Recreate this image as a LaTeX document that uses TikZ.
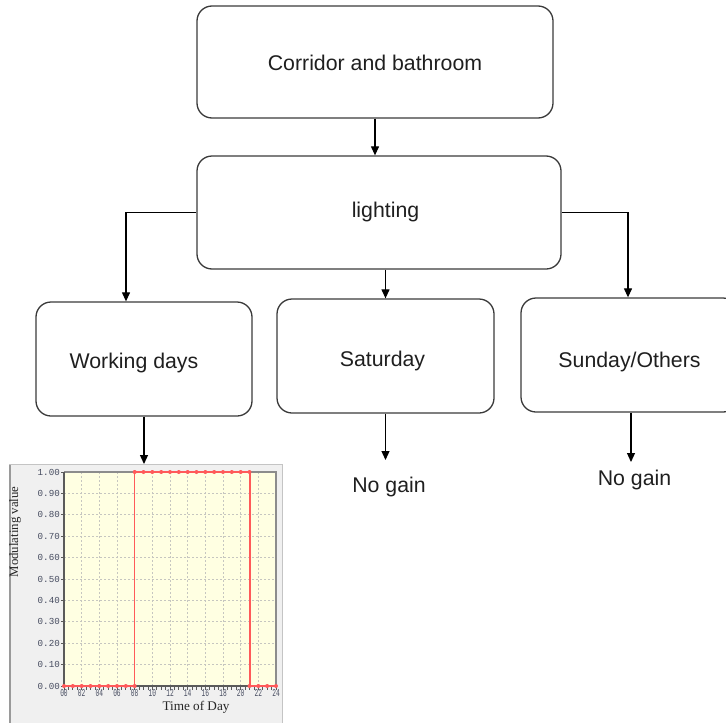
\documentclass[tikz,border=0pt]{standalone}
\usepackage{fontspec}
\usepackage{graphicx}
\setmainfont{Liberation Sans}
\newfontfamily\chartserif{Liberation Serif}
\newfontfamily\chartmono{Liberation Mono}
\usetikzlibrary{arrows.meta}

\definecolor{boxline}{HTML}{3A3A3A}
\definecolor{panelbg}{HTML}{F0F0F0}
\definecolor{paneledge}{HTML}{C4C4C4}
\definecolor{panelleft}{HTML}{9A9A9A}
\definecolor{plotbg}{HTML}{FFFFE2}
\definecolor{gridc}{HTML}{C6C6C0}
\definecolor{curve}{HTML}{FF5A5A}
\definecolor{axisc}{HTML}{5A5A5A}
\definecolor{framec}{HTML}{8C8C8C}
\definecolor{ticklbl}{HTML}{464C60}

\tikzset{
  box/.style={draw=boxline, line width=1.3pt, rounded corners=15pt, inner sep=0pt},
  boxtext/.style={font=\fontsize{21.3}{25}\selectfont, anchor=base, inner sep=0pt, text=black!88},
  arr/.style={-{Triangle[length=9pt,width=8pt]}, line width=1.2pt, black},
  gridline/.style={gridc, line width=0.7pt, dash pattern=on 2pt off 2pt},
  ylbl/.style={font=\chartmono\fontsize{9.2}{10}\selectfont, text=ticklbl, anchor=east, inner sep=0pt},
  xlbl/.style={font=\chartmono\fontsize{10.4}{11}\selectfont, text=ticklbl, anchor=north, inner sep=0pt},
  dot/.style={fill=curve}
}

\begin{document}
\begin{tikzpicture}[x=1pt, y=-1pt]
\useasboundingbox (0,0) rectangle (726,723);

% ---- flow boxes ----
\node[box, minimum width=356pt, minimum height=112pt] (b1) at (375,62) {};
\node[box, minimum width=364pt, minimum height=113pt] (b2) at (379,212.5) {};
\node[box, minimum width=216pt, minimum height=114pt] (b3) at (144,359) {};
\node[box, minimum width=217pt, minimum height=114pt] (b4) at (385.5,356) {};
\node[box, minimum width=217pt, minimum height=114pt] (b5) at (629.5,355) {};

\node[boxtext] (t1) at (375,70) {Corridor and bathroom};
\node[boxtext] (t2) at (385.5,217) {lighting};
\node[boxtext] (t3) at (134,368) {Working days};
\node[boxtext] (t4) at (382.5,366) {Saturday};
\node[boxtext] (t5) at (629.5,367) {Sunday/Others};

\node[boxtext] (ng1) at (389,492) {No gain};
\node[boxtext] (ng2) at (634.5,485) {No gain};
\coordinate (ng1top) at (385.5,460);
\coordinate (ng2top) at (631,462);

% ---- chart panel ----
\node[fill=panelbg, draw=paneledge, line width=1.2pt, anchor=north west,
      minimum width=273pt, minimum height=270pt, inner sep=0pt] (chart) at (9,464) {};
\draw[panelleft, line width=2pt] (10,465) -- (10,730);

% ---- connectors ----
\draw[arr] (b1.south) -- (b1.south |- b2.north);
\draw[arr] (b2.west) -| ([xshift=-18pt]b3.north);
\draw[arr] (b4.north |- b2.south) -- (b4.north);
\draw[arr] (b2.east) -| ([xshift=-1.5pt]b5.north);
\draw[arr] (b3.south) -- (b3.south |- chart.north);
\draw[arr] (b4.south) -- (ng1top);
\draw[arr] ([xshift=1.5pt]b5.south) -- (ng2top);

% ---- schedule plot (hours 0..24, value 0..1) ----
\begin{scope}[shift={(64,686)}, x=8.8333pt, y=214pt]
  \fill[plotbg] (0,0) rectangle (24,1);
  \foreach \v in {0.1,0.2,...,0.95}
    \draw[gridline] (0,\v) -- (24,\v);
  \foreach \h in {2,4,...,22}
    \draw[gridline] (\h,0) -- (\h,1);
  \draw[framec, line width=1.4pt] (0,1) -- (24,1) -- (24,0);
  \draw[axisc, line width=1.4pt] (0,1) -- (0,0) -- (24,0);
  % minor ticks on the time axis
  \foreach \h in {0,0.5,...,24}
    \draw[axisc, line width=0.7pt] (\h,0) -- ++(0,-4pt);
  % value ticks and labels
  \foreach \v/\t in {0/0.00,0.1/0.10,0.2/0.20,0.3/0.30,0.4/0.40,0.5/0.50,0.6/0.60,0.7/0.70,0.8/0.80,0.9/0.90,1/1.00} {
    \draw[axisc, line width=0.7pt] (0,\v) -- ++(-3.5pt,0);
    \node[ylbl] at ([xshift=-4pt]0,\v) {\t};
  }
  \foreach \h/\t in {0/00,2/02,4/04,6/06,8/08,10/10,12/12,14/14,16/16,18/18,20/20,22/22,24/24}
    \node[xlbl] at ([yshift=-3pt]\h,0) {\scalebox{0.6}[1]{\t}};
  % schedule curve: off until 08, on until 21, off again
  \draw[curve, line width=1.6pt, line join=miter] (0,0) -- (8,0) -- (8,1) -- (21,1);
  \draw[curve, line width=1.6pt] ([xshift=0.5pt]21,1) -- ([xshift=0.5pt]21,0);
  \draw[curve, line width=1.6pt] (21,0) -- (24,0);
  \foreach \h in {0,...,8} \fill[dot] (\h,0) circle (2pt);
  \foreach \h in {8,...,21} \fill[dot] (\h,1) circle (2pt);
  \foreach \h in {21,...,24} \fill[dot] (\h,0) circle (2pt);
\end{scope}

\node[font=\chartserif\fontsize{12.8}{14}\selectfont, rotate=90, text=black!85, inner sep=0pt] (ylab) at (15,532) {Modulating value};
\node[font=\chartserif\fontsize{13.2}{15}\selectfont, text=black!85, inner sep=0pt] (xlab) at (196,707) {Time of Day};
\end{tikzpicture}
\end{document}
